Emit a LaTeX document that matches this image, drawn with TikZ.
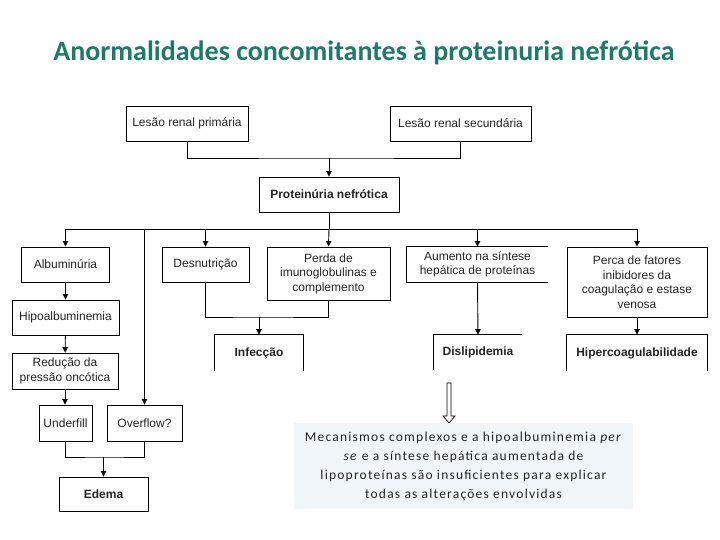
\documentclass[tikz,border=0pt]{standalone}
\usepackage{fontspec}
\setmainfont{Liberation Sans}
\newfontfamily\calib{Carlito}
\newfontfamily\calibsp[LetterSpace=9]{Carlito}
\usetikzlibrary{arrows.meta}
\definecolor{titleteal}{RGB}{30,122,104}
\definecolor{notebg}{RGB}{240,246,250}
\definecolor{boxtxt}{RGB}{35,35,35}
\begin{document}
\begin{tikzpicture}[x=1pt,y=-1pt,
  line width=0.9pt,
  bx/.style={draw, align=center, inner sep=1pt, text=boxtxt,
    font=\fontsize{12}{14.5}\selectfont},
  ob/.style={align=center, inner sep=1pt, text=boxtxt,
    font=\fontsize{12}{14.5}\selectfont},
  bb/.style={font=\fontsize{12}{14.5}\selectfont\bfseries},
  arr/.style={-{Triangle[length=5.5pt,width=5.5pt]}}]
\useasboundingbox (0,0) rectangle (720,540);
% title
\node[text=titleteal, font=\calib\fontsize{28}{32}\selectfont\bfseries] (title) at (364,53) {Anormalidades concomitantes à proteinuria nefrótica};
% boxes
\node[bx, minimum width=122, minimum height=35] (prim) at (187,123.5) {Lesão renal primária};
\node[bx, minimum width=141, minimum height=35] (sec) at (460.5,123.5) {Lesão renal secundária};
\node[bx, bb, minimum width=140, minimum height=35] (prot) at (329,194.5) {Proteinúria nefrótica};
\node[bx, minimum width=88, minimum height=35] (alb) at (65.5,264.5) {Albuminúria};
\node[bx, minimum width=107, minimum height=35] (hipo) at (65.5,317.5) {Hipoalbuminemia};
\node[bx, minimum width=106, minimum height=36] (red) at (65,371) {Redução da\\pressão oncótica};
\node[bx, minimum width=53, minimum height=36] (under) at (65.5,423) {Underfill};
\node[bx, minimum width=75, minimum height=36] (over) at (144.5,423) {Overflow?};
\node[bx, bb, minimum width=89, minimum height=34] (edema) at (103.5,494) {Edema};
\node[bx, minimum width=87, minimum height=35] (des) at (205.5,264.5) {Desnutrição};
\node[bx, minimum width=123, minimum height=53] (perda) at (328.5,273.5) {Perda de\\imunoglobulinas e\\complemento};
\node[ob, bb, minimum width=88, minimum height=36] (inf) at (259,353) {Infecção};
\node[ob, minimum width=141, minimum height=35] (aum) at (477.5,264.5) {Aumento na síntese\\hepática de proteínas};
\node[ob, bb, minimum width=88, minimum height=35] (disl) at (478,352.5) {Dislipidemia};
\node[bx, minimum width=140, minimum height=70] (perca) at (637,282) {Perca de fatores\\inibidores da\\coagulação e estase\\venosa};
\node[ob, bb, minimum width=140, minimum height=36] (hiper) at (637,353) {Hipercoagulabilidade};
% open box outlines
\draw (inf.south west) -- (inf.north west) -- (inf.north east) -- (inf.south east);
\draw (aum.north east) -- (aum.north west) -- (aum.south west) -- (aum.south east);
\draw (disl.north east) -- (disl.north west) -- (disl.south west);
\draw (hiper.south west) -- (hiper.north west) -- (hiper.north east) -- (hiper.south east);
% connectors
\coordinate (j1) at (329,158);
\draw (prim.south) |- (j1) -| (sec.south);
\draw[arr] (j1) -- (prot.north);
\coordinate (bus) at (329,229);
\draw (prot.south) -- (bus);
\draw (bus -| alb.north) -- (bus -| perca.north);
\draw[arr] (bus -| alb.north) -- (alb.north);
\draw[arr] (bus -| over.north) -- (over.north);
\draw[arr] (bus -| des.north) -- (des.north);
\draw[arr] (bus) -- (perda.north);
\draw[arr] (bus -| aum.north) -- (aum.north);
\draw[arr] (bus -| perca.north) -- (perca.north);
\draw[arr] (alb) -- (hipo);
\draw[arr] (hipo) -- (red);
\draw[arr] (red.south) -- (red.south |- under.north);
\coordinate (j2) at (259,317);
\draw (des.south) |- (j2) -| (perda.south);
\draw[arr] (j2) -- (inf.north);
\coordinate (j3) at (103.5,457);
\draw (under.south) |- (j3) -| (over.south);
\draw[arr] (j3) -- (edema.north);
\draw[arr] (aum.south) -- (disl.north);
\draw[arr] (perca.south) -- (hiper.north);
% hollow arrow
\draw[line width=0.7pt] (447,383) -- (451,383) -- (451,416) -- (455,416) -- (449,423) -- (443,416) -- (447,416) -- cycle;
% note
\node[fill=notebg, minimum width=339, minimum height=86, align=center, text=boxtxt,
  font=\calibsp\fontsize{13.5}{19}\selectfont] (note) at (463.5,466)
  {Mecanismos complexos e a hipoalbuminemia \textit{per}\\\textit{se} e a síntese hepática aumentada de\\lipoproteínas são insuficientes para explicar\\todas as alterações envolvidas};
\end{tikzpicture}
\end{document}
